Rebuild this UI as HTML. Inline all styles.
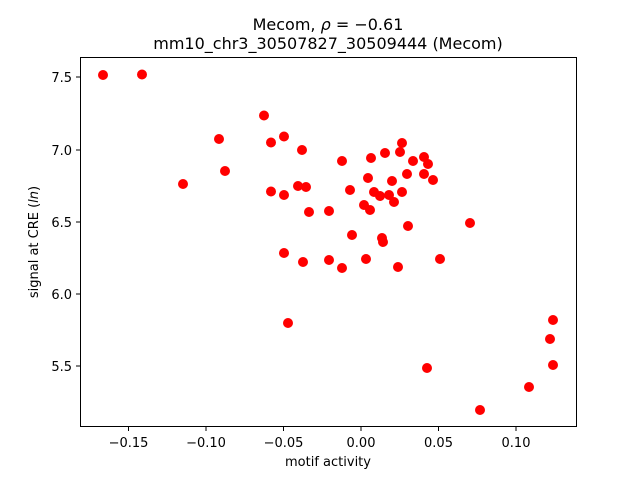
<!DOCTYPE html>
<html><head><meta charset="utf-8"><style>body{margin:0;background:#fff}svg{display:block}text{font-family:"DejaVu Sans","Liberation Sans",sans-serif;fill:#000}</style></head><body>
<svg width="640" height="480" xmlns="http://www.w3.org/2000/svg">
<rect width="640" height="480" fill="#fff"/>
<g fill="#ff0000">
<circle cx="103" cy="75" r="5"/><circle cx="142" cy="74.5" r="5"/><circle cx="264" cy="115.5" r="5"/><circle cx="219" cy="139" r="5"/><circle cx="271" cy="142.5" r="5"/><circle cx="284" cy="136.5" r="5"/><circle cx="302" cy="150" r="5"/><circle cx="225" cy="171" r="5"/><circle cx="183" cy="184" r="5"/><circle cx="271" cy="191.5" r="5"/><circle cx="284" cy="195" r="5"/><circle cx="298" cy="186" r="5"/><circle cx="306" cy="187" r="5"/><circle cx="309" cy="212" r="5"/><circle cx="329" cy="211" r="5"/><circle cx="284" cy="253" r="5"/><circle cx="303" cy="262" r="5"/><circle cx="329" cy="260" r="5"/><circle cx="288" cy="323" r="5"/>
<circle cx="342" cy="161" r="5"/><circle cx="371" cy="158" r="5"/><circle cx="385" cy="153" r="5"/><circle cx="402" cy="143" r="5"/><circle cx="400" cy="152" r="5"/><circle cx="424" cy="157" r="5"/><circle cx="413" cy="161" r="5"/><circle cx="428" cy="164" r="5"/><circle cx="368" cy="178" r="5"/><circle cx="392" cy="181" r="5"/><circle cx="407" cy="174" r="5"/><circle cx="424" cy="174" r="5"/><circle cx="433" cy="180" r="5"/><circle cx="350" cy="190" r="5"/><circle cx="374" cy="192" r="5"/><circle cx="380" cy="196" r="5"/><circle cx="389" cy="195" r="5"/><circle cx="402" cy="192" r="5"/><circle cx="394" cy="202" r="5"/><circle cx="364" cy="205" r="5"/><circle cx="370" cy="210" r="5"/><circle cx="408" cy="226" r="5"/><circle cx="470" cy="223" r="5"/><circle cx="352" cy="235" r="5"/><circle cx="382" cy="238" r="5"/><circle cx="383" cy="242" r="5"/><circle cx="342" cy="268" r="5"/><circle cx="366" cy="259" r="5"/><circle cx="398" cy="267" r="5"/><circle cx="440" cy="259" r="5"/><circle cx="553" cy="320" r="5"/><circle cx="550" cy="339" r="5"/><circle cx="553" cy="365" r="5"/><circle cx="427" cy="368" r="5"/><circle cx="529" cy="387" r="5"/><circle cx="480" cy="410" r="5"/>
</g>
<rect x="80.5" y="57.5" width="496" height="369" fill="none" stroke="#000" stroke-width="1"/>
<g stroke="#000">
<line x1="128.5" y1="427" x2="128.5" y2="431"/><line x1="206" y1="427" x2="206" y2="431"/><line x1="283.5" y1="427" x2="283.5" y2="431"/><line x1="361" y1="427" x2="361" y2="431"/><line x1="438.5" y1="427" x2="438.5" y2="431"/><line x1="516" y1="427" x2="516" y2="431"/>
<line x1="76" y1="77" x2="80" y2="77"/><line x1="76" y1="150" x2="80" y2="150"/><line x1="76" y1="222" x2="80" y2="222"/><line x1="76" y1="294" x2="80" y2="294"/><line x1="76" y1="366" x2="80" y2="366"/>
</g>
<g font-size="13" text-anchor="middle">
<text x="128.5" y="447">−0.15</text><text x="206" y="447">−0.10</text><text x="283.5" y="447">−0.05</text><text x="361" y="447">0.00</text><text x="438.5" y="447">0.05</text><text x="516" y="447">0.10</text>
</g>
<g font-size="13" text-anchor="end">
<text x="72" y="82">7.5</text><text x="72" y="155">7.0</text><text x="72" y="227">6.5</text><text x="72" y="299">6.0</text><text x="72" y="371">5.5</text>
</g>
<text x="328" y="466" font-size="13" text-anchor="middle">motif activity</text>
<text transform="translate(38,242) rotate(-90)" font-size="13" text-anchor="middle">signal at CRE (<tspan font-style="italic">ln</tspan>)</text>
<text x="328" y="30" font-size="16" text-anchor="middle">Mecom, <tspan font-style="italic">ρ</tspan> = −0.61</text>
<text x="328" y="49" font-size="16" text-anchor="middle">mm10_chr3_30507827_30509444 (Mecom)</text>
</svg>
</body></html>
